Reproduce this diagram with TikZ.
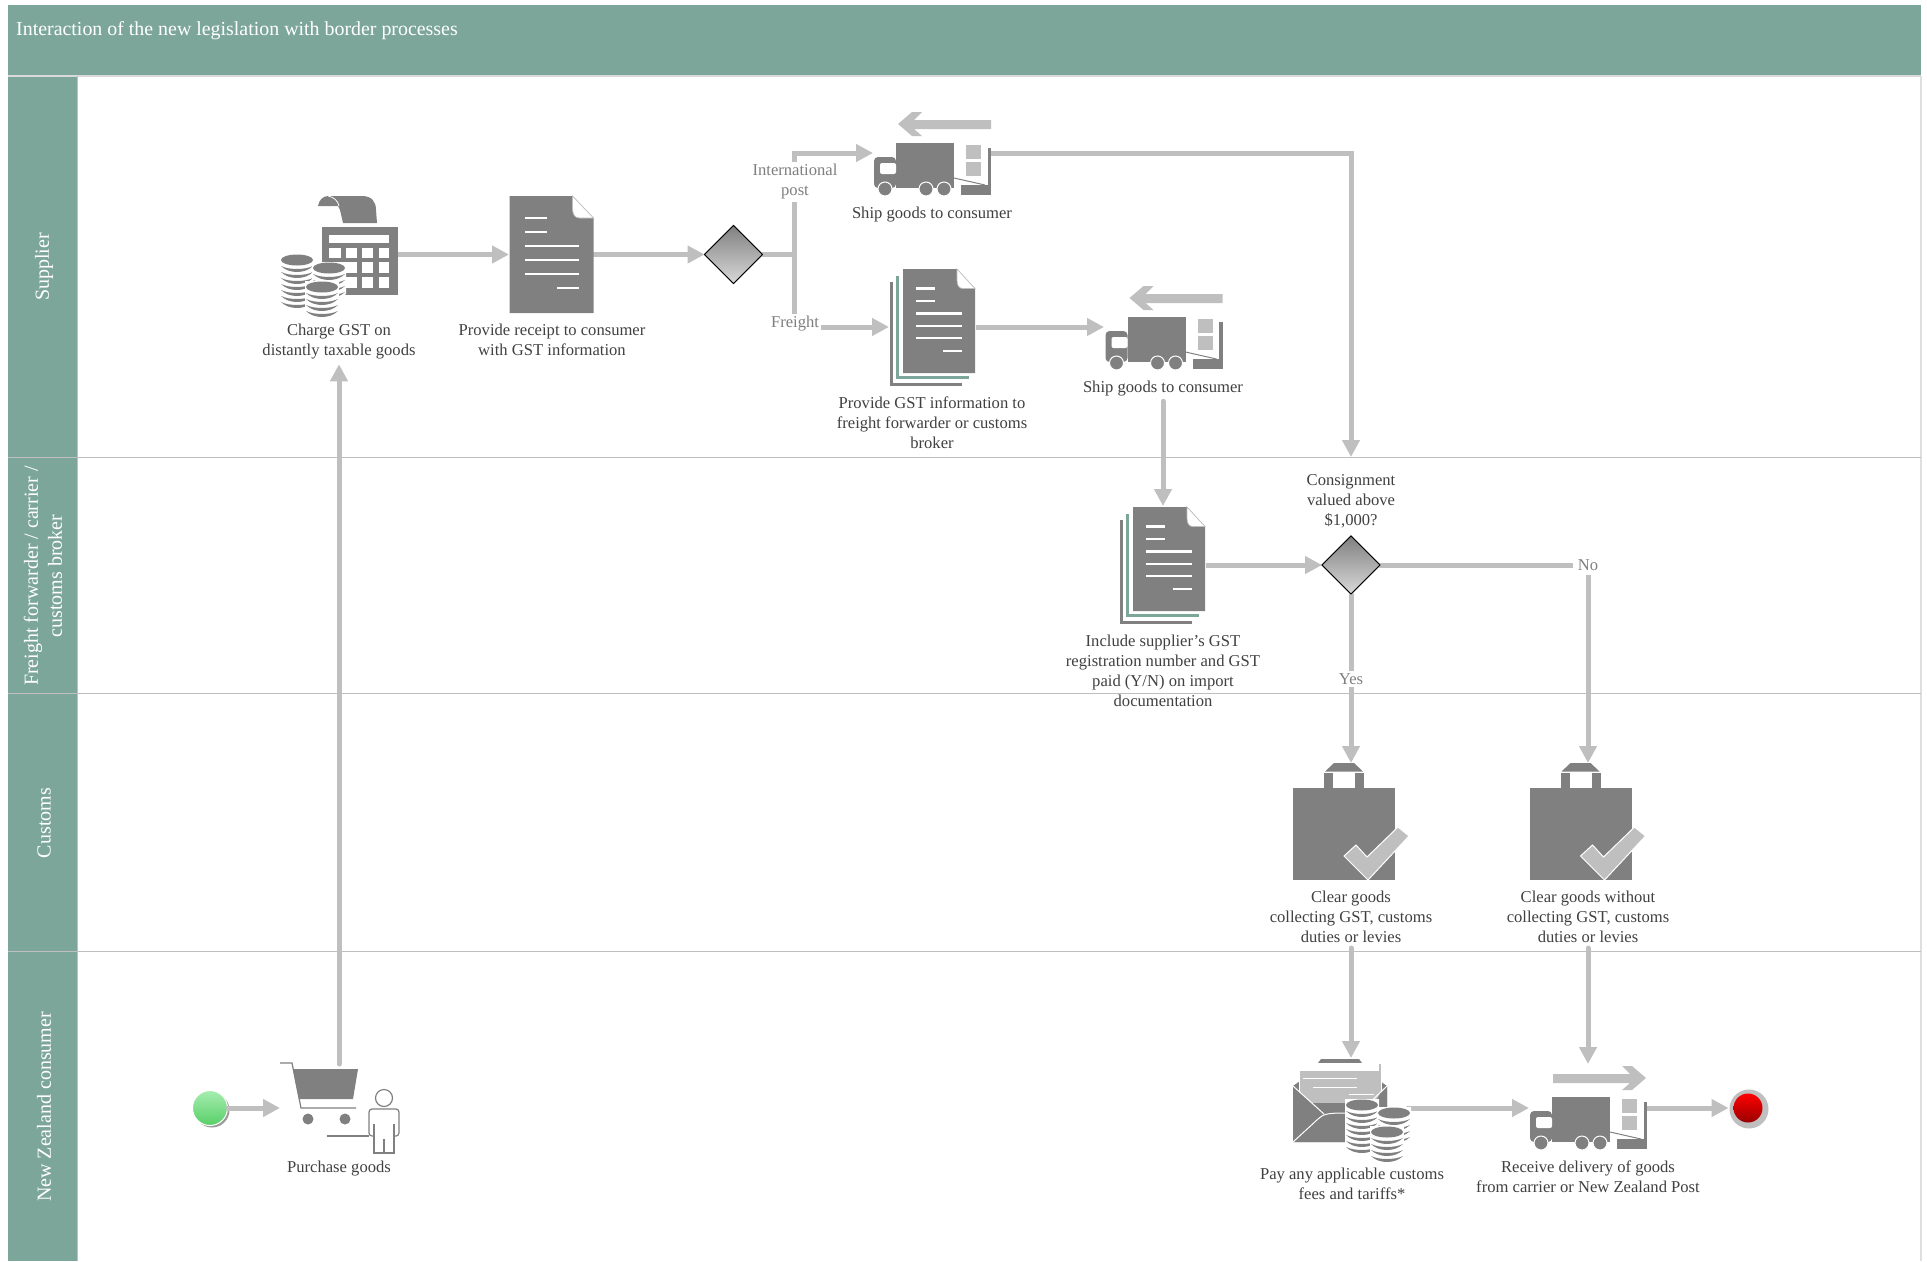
\documentclass[tikz,border=0pt]{standalone}
\usepackage{fontspec}
\setmainfont{Liberation Serif}
\usetikzlibrary{arrows.meta,shapes.geometric,calc}
\definecolor{band}{HTML}{7DA69B}
\definecolor{icon}{HTML}{808080}
\definecolor{conn}{HTML}{BFBFBF}
\definecolor{lite}{HTML}{BFBFBF}
\definecolor{txt}{HTML}{404040}
\definecolor{glab}{HTML}{7F7F7F}
\tikzset{
  connector/.style={draw=conn,line width=5pt,line cap=round,line join=miter},
  arrowed/.style={connector,-{Triangle[length=17pt,width=17pt]}},
  lbl/.style={align=center,text=txt,font=\fontsize{16.6}{20}\selectfont,inner xsep=2pt,inner ysep=5pt},
  glbl/.style={align=center,text=glab,font=\fontsize{16.6}{20}\selectfont,fill=white,inner xsep=2pt,inner ysep=2pt},
  lane/.style={align=center,text=white,font=\fontsize{20}{24}\selectfont,rotate=90,inner sep=0pt},
  iconbox/.style={inner sep=0pt,outer sep=0pt,minimum width=#1},
  gate/.style={diamond,draw=black,line width=1pt,inner sep=0pt,outer sep=0pt,minimum width=58pt,minimum height=58pt,top color=icon,bottom color=icon!30},
  laneline/.style={draw=lite,line width=1pt},
  thinicon/.style={draw=icon,line width=1.2pt}
}
% page-like sheet, drawn in the coordinates of the receipt icon
\newcommand{\sheeticon}[4]{%
\begin{scope}[shift={(#1,#2)},xscale=#3/84,yscale=#4/117]
\fill[icon] (0,0) -- (63,0) -- (84,22) -- (84,117) -- (0,117) -- cycle;
\filldraw[fill=white,draw=lite,line width=.7pt] (63,0) -- (84,22) -- (70,22) .. controls (65,22) and (63,18) .. (63,12) -- cycle;
\foreach \yy/\xa/\xb in {22/15/37,36/15/37,50/15/69,64/15/69,78/15/69,92/47/69}
  \fill[white] (\xa,\yy-1.2) rectangle (\xb,\yy+1.2);
\end{scope}}
\newcommand{\stackedsheet}[2]{%
\fill[icon] (#1-13,#2+13) rectangle (#1-10,#2+117);
\fill[icon] (#1-13,#2+114) rectangle (#1+59,#2+117);
\fill[band] (#1-7,#2+7) rectangle (#1-4,#2+110);
\fill[band] (#1-7,#2+107) rectangle (#1+66,#2+110);
\fill[white] (#1-4,#2-1) rectangle (#1+73,#2+107);
\sheeticon{#1}{#2}{72}{104}}
% a truck, in the coordinates of the first truck
\newcommand{\truckbody}{%
\fill[icon] (896,143) rectangle (954,188);
\fill[icon,rounded corners=4pt] (896,157) -- (874,157) -- (874,188) -- (896,188) -- cycle;
\fill[white,rounded corners=2pt] (896,163) -- (880,163) -- (880,174) -- (896,174) -- cycle;
\foreach \wx in {885,926,944} \filldraw[fill=icon,draw=white,line width=1pt] (\wx,189) circle[radius=7];
\fill[lite] (966,145) rectangle (981,159);
\fill[lite] (966,162) rectangle (981,176);
\fill[icon] (987.5,148) rectangle (991,195);
\fill[icon] (961,185) rectangle (991,195);
\draw[icon,line width=1pt] (954,178) -- (985,185);
}
\newcommand{\truckarrow}{%
\fill[lite] (898,124) -- (912,112) -- (922,112) -- (914,120) -- (991,120) -- (991,129) -- (914,129) -- (922,136) -- (912,136) -- cycle;
}
\newcommand{\onecoin}[3]{%
\fill[white] (#1-17,#2-1) -- (#1+17,#2-1) -- (#1+17,#2+#3*6+7) .. controls (#1+8,#2+#3*6+14) and (#1-8,#2+#3*6+14) .. (#1-17,#2+#3*6+7) -- cycle;
\foreach \cc in {1,...,#3}
  \fill[icon] ($(#1-16,#2+5+\cc*6)$) .. controls ($(#1-8,#2+13+\cc*6)$) and ($(#1+8,#2+13+\cc*6)$) .. ($(#1+16,#2+5+\cc*6)$) .. controls ($(#1+8,#2+9+\cc*6)$) and ($(#1-8,#2+9+\cc*6)$) .. ($(#1-16,#2+5+\cc*6)$);
\fill[icon] (#1,#2+5) ellipse[x radius=16pt,y radius=5.5pt];}
\newcommand{\coingroup}{%
\onecoin{297}{255}{7}
\onecoin{329}{263}{4}
\onecoin{322}{282}{4}}
\newcommand{\bagicon}{%
\fill[icon] (1293,788) rectangle (1395,880);
\fill[icon] (1324,773) rectangle (1333,788);
\fill[icon] (1355,773) rectangle (1364,788);
\fill[icon] (1325,771.5) -- (1334,763) -- (1354,763) -- (1363,771.5) -- cycle;
\filldraw[fill=lite,draw=white,line width=1pt] (1344,856) -- (1356,845) -- (1367,857) -- (1398,827) -- (1409,836) -- (1368,880) -- cycle;
}
\begin{document}
\begin{tikzpicture}[x=1pt,y=-1pt]
\useasboundingbox (0,0) rectangle (1927,1261);
% swimlane frame
\fill[band] (8,5) rectangle (1921,76);
\fill[band] (8,76) rectangle (77.5,1261);
\draw[draw=lite!60,line width=1.6pt] (8,76) -- (1921,76);
\draw[draw=lite!50,line width=2pt] (1920.5,76) -- (1920.5,1261);
\draw[laneline] (77.5,76) -- (77.5,1261);
\draw[laneline] (8,457) -- (1921,457);
\draw[laneline] (8,693) -- (1921,693);
\draw[laneline] (8,951) -- (1921,951);
\node[anchor=west,text=white,font=\fontsize{19.9}{24}\selectfont,inner sep=0pt] (title) at (16,31) {Interaction of the new legislation with border processes};
\node[lane] (laneS) at (44,267) {Supplier};
\node[lane] (laneF) at (43,576) {Freight forwarder / carrier /\\customs broker};
\node[lane] (laneC) at (44,823) {Customs};
\node[lane] (laneN) at (44,1107) {New Zealand consumer};
% icon anchors
\node[iconbox=76pt,minimum height=120pt] (calc) at (360,254.5) {};
\node[iconbox=85pt,minimum height=117pt] (doc1) at (551.5,254.5) {};
\node[gate] (d1) at (733.5,254.5) {};
\coordinate (j1) at (794.5,254.5);
\node[iconbox=118pt,minimum height=86pt] (truck1) at (932,153) {};
\node[iconbox=86pt,minimum height=116pt] (doc2) at (932,327) {};
\node[iconbox=118pt,minimum height=86pt] (truck2) at (1163,327) {};
\node[iconbox=84pt,minimum height=118pt] (doc3) at (1163,565) {};
\node[gate] (d2) at (1351,565) {};
\node[iconbox=116pt,minimum height=118pt] (bag1) at (1351,822) {};
\node[iconbox=116pt,minimum height=118pt] (bag2) at (1588,822) {};
\node[iconbox=114pt,minimum height=100pt] (env) at (1351,1108) {};
\node[iconbox=118pt,minimum height=88pt] (truck3) at (1588,1108) {};
\node[iconbox=118pt,minimum height=88pt] (cart) at (339,1108) {};
\coordinate (consignTop) at (1351,457);
% text labels
\node[lbl] (tCharge) at (339,341.5) {Charge GST on\\distantly taxable goods};
\node[lbl] (tReceipt) at (552,339.5) {Provide receipt to consumer\\with GST information};
\node[lbl] (tShip1) at (932,214.5) {Ship goods to consumer};
\node[lbl] (tGST) at (932,423) {Provide GST information to\\freight forwarder or customs\\broker};
\node[lbl] (tShip2) at (1163,388.5) {Ship goods to consumer};
\node[lbl] (tConsign) at (1351,501) {Consignment\\valued above\\\$1,000?};
\node[lbl] (tInclude) at (1163,671) {Include supplier's GST\\registration number and GST\\paid (Y/N) on import\\documentation};
\node[lbl] (tClear1) at (1351,917) {Clear goods\\collecting GST, customs\\duties or levies};
\node[lbl] (tClear2) at (1588,917) {Clear goods without\\collecting GST, customs\\duties or levies};
\node[lbl] (tPurchase) at (339,1169) {Purchase goods};
\node[lbl] (tPay) at (1352,1184) {Pay any applicable customs\\fees and tariffs*};
\node[lbl] (tReceive) at (1588,1177) {Receive delivery of goods\\from carrier or New Zealand Post};
% start and end events
\fill[icon!80] (212,1110) circle[radius=17.5];
\definecolor{gtop}{HTML}{A6EDB0}
\definecolor{gbot}{HTML}{58CF67}
\node[circle,draw=white,line width=1pt,inner sep=0pt,minimum size=35pt,top color=gtop,bottom color=gbot] (start) at (210,1108) {};
\fill[lite] (1749,1109) circle[radius=19.5];
\node[circle,inner sep=0pt,outer sep=5pt,minimum size=29pt,top color=red,bottom color=red!60!black] (stop) at (1748,1108) {};
% connectors
\draw[arrowed] (start.east) -- (cart.west);
\draw[arrowed] (cart.north) -- (tCharge.south);
\draw[arrowed] (calc.east) -- (doc1.west);
\draw[arrowed] (doc1.east) -- (d1.west);
\draw[connector] (d1.east) -- (j1);
\draw[arrowed] (j1) |- (truck1.west);
\draw[arrowed] (j1) |- (doc2.west);
\draw[arrowed] (doc2.east) -- (truck2.west);
\draw[arrowed] (truck1.east) -| (consignTop);
\draw[arrowed] (tShip2.south) -- (doc3.north);
\draw[arrowed] (doc3.east) -- (d2.west);
\draw[arrowed] (d2.south) -- (bag1.north);
\draw[arrowed] (d2.east) -| (bag2.north);
\draw[arrowed] (tClear1.south) -- (env.north);
\draw[arrowed] (tClear2.south) -- (truck3.north);
\draw[arrowed] (env.east) -- (truck3.west);
\draw[arrowed] (truck3.east) -- (stop.west);
% gates redrawn over the ends of their connectors
\node[gate] at (d1) {};
\node[gate] at (d2) {};
% connector labels
\node[glbl] (tIntl) at (795,182) {International\\post};
\node[glbl] (tFreight) at (795,324) {Freight};
\node[glbl] (tYes) at (1351,679) {Yes};
\node[glbl,inner xsep=5pt,inner ysep=4pt] (tNo) at (1588,565) {No};
% calculator
\fill[icon] (318,206) .. controls (319,200) and (323,196) .. (328,196) -- (362,196) .. controls (372,196) and (376,202) .. (376,210) -- (377,223) -- (343,223) -- (340,210) -- (338,206) -- cycle;
\draw[white,line width=.8pt] (328,196) .. controls (334,197) and (338,201) .. (339,206);
\fill[icon] (322,227) rectangle (398,295);
\fill[white] (329,235) rectangle (389,243);
\foreach \kx/\ke in {329/341,346/357,362/373,379/389}
  \foreach \ky/\kf in {248/258,262/273,277/288}
    \fill[white] (\kx,\ky) rectangle (\ke,\kf);
\coingroup
% documents
\sheeticon{509.5}{196}{84}{117}
\stackedsheet{903}{269}
\stackedsheet{1133}{507}
% trucks
\truckbody \truckarrow
\begin{scope}[shift={(231.5,174)}] \truckbody \truckarrow \end{scope}
\begin{scope}[shift={(656,954)}] \truckbody \end{scope}
\begin{scope}[shift={(2544,954)},xscale=-1] \truckarrow \end{scope}
% bags
\bagicon
\begin{scope}[shift={(236.5,0)}] \bagicon \end{scope}
% envelope
\fill[icon] (1318,1063) -- (1321,1059) -- (1359,1059) -- (1362,1063) -- cycle;
\fill[icon] (1293,1086) -- (1300,1081) -- (1380,1081) -- (1387,1086) -- (1387,1142) -- (1293,1142) -- cycle;
\filldraw[fill=lite,draw=white,line width=1pt] (1299,1063) rectangle (1381,1104);
\fill[white] (1300,1064) rectangle (1379,1071);
\fill[white] (1303,1077.5) rectangle (1357,1078.5);
\fill[white] (1313,1086.5) rectangle (1357,1087.5);
\fill[white] (1349,1093.5) rectangle (1374,1094.5);
\fill[icon] (1299,1092) -- (1312,1103) -- (1375,1103) -- (1381,1092) -- (1387,1086) -- (1387,1142) -- (1293,1142) -- (1293,1086) -- cycle;
\draw[white,line width=1pt] (1293,1086) -- (1324,1114);
\draw[white,line width=1pt] (1387,1086) -- (1360,1112);
\draw[white,line width=1pt] (1293,1142) -- (1318,1119) .. controls (1323,1114) and (1328,1113) .. (1345,1113);
\begin{scope}[shift={(1065,845)}] \coingroup \end{scope}
% cart and person
\draw[thinicon] (280,1063) -- (292,1063) -- (301,1108) -- (356,1108);
\fill[icon] (293,1069) -- (358,1069) -- (353,1099) -- (299,1099) -- cycle;
\fill[icon] (308,1119) circle[radius=5.5];
\fill[icon] (345,1119) circle[radius=5.5];
\draw[thinicon] (384,1098) circle[radius=8.5];
\draw[thinicon,rounded corners=3pt] (374,1136) -- (369,1136) -- (369,1109) -- (399,1109) -- (399,1136) -- (394,1136);
\draw[thinicon] (374,1124) -- (374,1153) -- (394,1153) -- (394,1124);
\draw[thinicon] (384,1139) -- (384,1153);
\draw[thinicon] (327,1136) -- (369,1136);
\end{tikzpicture}
\end{document}
